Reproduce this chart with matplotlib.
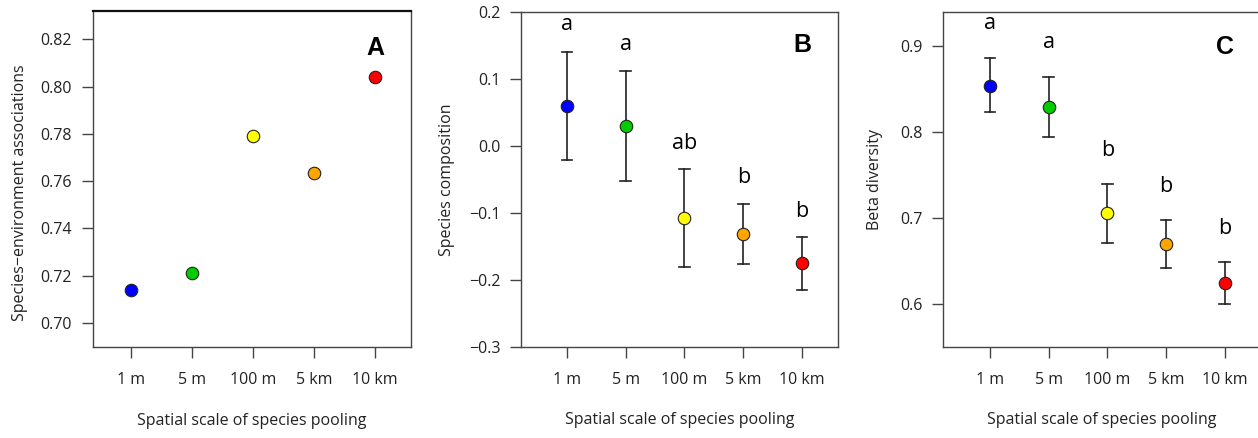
import matplotlib.pyplot as plt

plt.rcParams['font.family'] = ['Open Sans', 'DejaVu Sans']

scales = ['1 m', '5 m', '100 m', '5 km', '10 km']
colors = ['#0000FF', '#00CD00', '#FFFF00', '#FFA500', '#FF0000']

# Panel A: species-environment associations
assoc = [0.714, 0.721, 0.779, 0.7635, 0.804]

# Panel B: species composition (mean, upper, lower)
comp = [0.060, 0.0295, -0.108, -0.132, -0.175]
comp_hi = [0.140, 0.112, -0.034, -0.086, -0.136]
comp_lo = [-0.021, -0.052, -0.181, -0.176, -0.215]
comp_letters = ['a', 'a', 'ab', 'b', 'b']
comp_letter_y = [0.181, 0.152, 0.004, -0.047, -0.098]

# Panel C: beta diversity (mean, upper, lower)
beta = [0.854, 0.829, 0.7055, 0.670, 0.624]
beta_hi = [0.886, 0.864, 0.740, 0.698, 0.6485]
beta_lo = [0.823, 0.794, 0.671, 0.642, 0.600]
beta_letters = ['a', 'a', 'b', 'b', 'b']
beta_letter_y = [0.9256, 0.9043, 0.779, 0.7364, 0.6872]

W, H = 1258, 438
fig = plt.figure(figsize=(W / 100, H / 100), dpi=100)


def make_ax(left, right, top=12, bottom=347):
    ax = fig.add_axes([left / W, 1 - bottom / H, (right - left) / W, (bottom - top) / H])
    for s in ax.spines.values():
        s.set_color('#444444')
        s.set_linewidth(1.0)
    ax.tick_params(direction='out', length=8, width=1.0, color='#444444',
                   labelsize=11.5, colors='#222222')
    ax.tick_params(axis='x', pad=10)
    ax.tick_params(axis='y', pad=7)
    x = list(range(1, len(scales) + 1))
    ax.set_xticks(x)
    ax.set_xticklabels(scales)
    ax.set_xlabel('Spatial scale of species pooling', fontsize=11.5, color='#222222')
    ax.xaxis.set_label_coords(0.5, -0.195)
    return ax, x


def draw_points(ax, x, y):
    for xi, yi, c in zip(x, y, colors):
        ax.plot(xi, yi, 'o', ms=9, mfc=c, mec='#222222', mew=0.8, zorder=3)


def draw_errors(ax, x, lo, hi):
    for xi, l, h in zip(x, lo, hi):
        ax.plot([xi, xi], [l, h], color='#222222', lw=1.2, zorder=2)
        for v in (l, h):
            ax.plot([xi - 0.09, xi + 0.09], [v, v], color='#222222', lw=1.2, zorder=2)


def panel_label(ax, y, s):
    ax.text(5, y, s, fontsize=18, fontweight='bold', ha='center', va='center',
            family=['Liberation Sans', 'DejaVu Sans'])


# A
axA, x = make_ax(93, 411, top=11)
axA.spines['top'].set_color('#111111')
axA.spines['top'].set_linewidth(1.6)
draw_points(axA, x, assoc)
axA.set_xlim(0.37, 5.59)
axA.set_ylim(0.6898, 0.832)
axA.set_yticks([0.70, 0.72, 0.74, 0.76, 0.78, 0.80, 0.82])
axA.set_yticklabels(['0.70', '0.72', '0.74', '0.76', '0.78', '0.80', '0.82'])
axA.set_ylabel('Species\u2212environment associations', fontsize=11.5, color='#222222', va='center')
axA.yaxis.set_label_coords(-0.23, 0.46)
panel_label(axA, 0.8165, 'A')

# B
axB, x = make_ax(521, 838)
draw_errors(axB, x, comp_lo, comp_hi)
draw_points(axB, x, comp)
for xi, t, ty in zip(x, comp_letters, comp_letter_y):
    axB.text(xi, ty, t, fontsize=15.5, ha='center', va='center')
axB.set_xlim(0.22, 5.61)
axB.set_ylim(-0.3, 0.2)
axB.set_yticks([-0.3, -0.2, -0.1, 0.0, 0.1, 0.2])
axB.set_yticklabels(['\u22120.3', '\u22120.2', '\u22120.1', '0.0', '0.1', '0.2'])
axB.set_ylabel('Species composition', fontsize=11.5, color='#222222', va='center')
axB.yaxis.set_label_coords(-0.233, 0.5)
panel_label(axB, 0.150, 'B')

# C
axC, x = make_ax(943, 1260)
draw_errors(axC, x, beta_lo, beta_hi)
draw_points(axC, x, beta)
for xi, t, ty in zip(x, beta_letters, beta_letter_y):
    axC.text(xi, ty, t, fontsize=15.5, ha='center', va='center')
axC.set_xlim(0.2, 5.6)
axC.set_ylim(0.55, 0.9395)
axC.set_yticks([0.6, 0.7, 0.8, 0.9])
axC.set_ylabel('Beta diversity', fontsize=11.5, color='#222222', va='center')
axC.yaxis.set_label_coords(-0.2145, 0.5)
panel_label(axC, 0.899, 'C')

fig.savefig('out.png', dpi=100)
